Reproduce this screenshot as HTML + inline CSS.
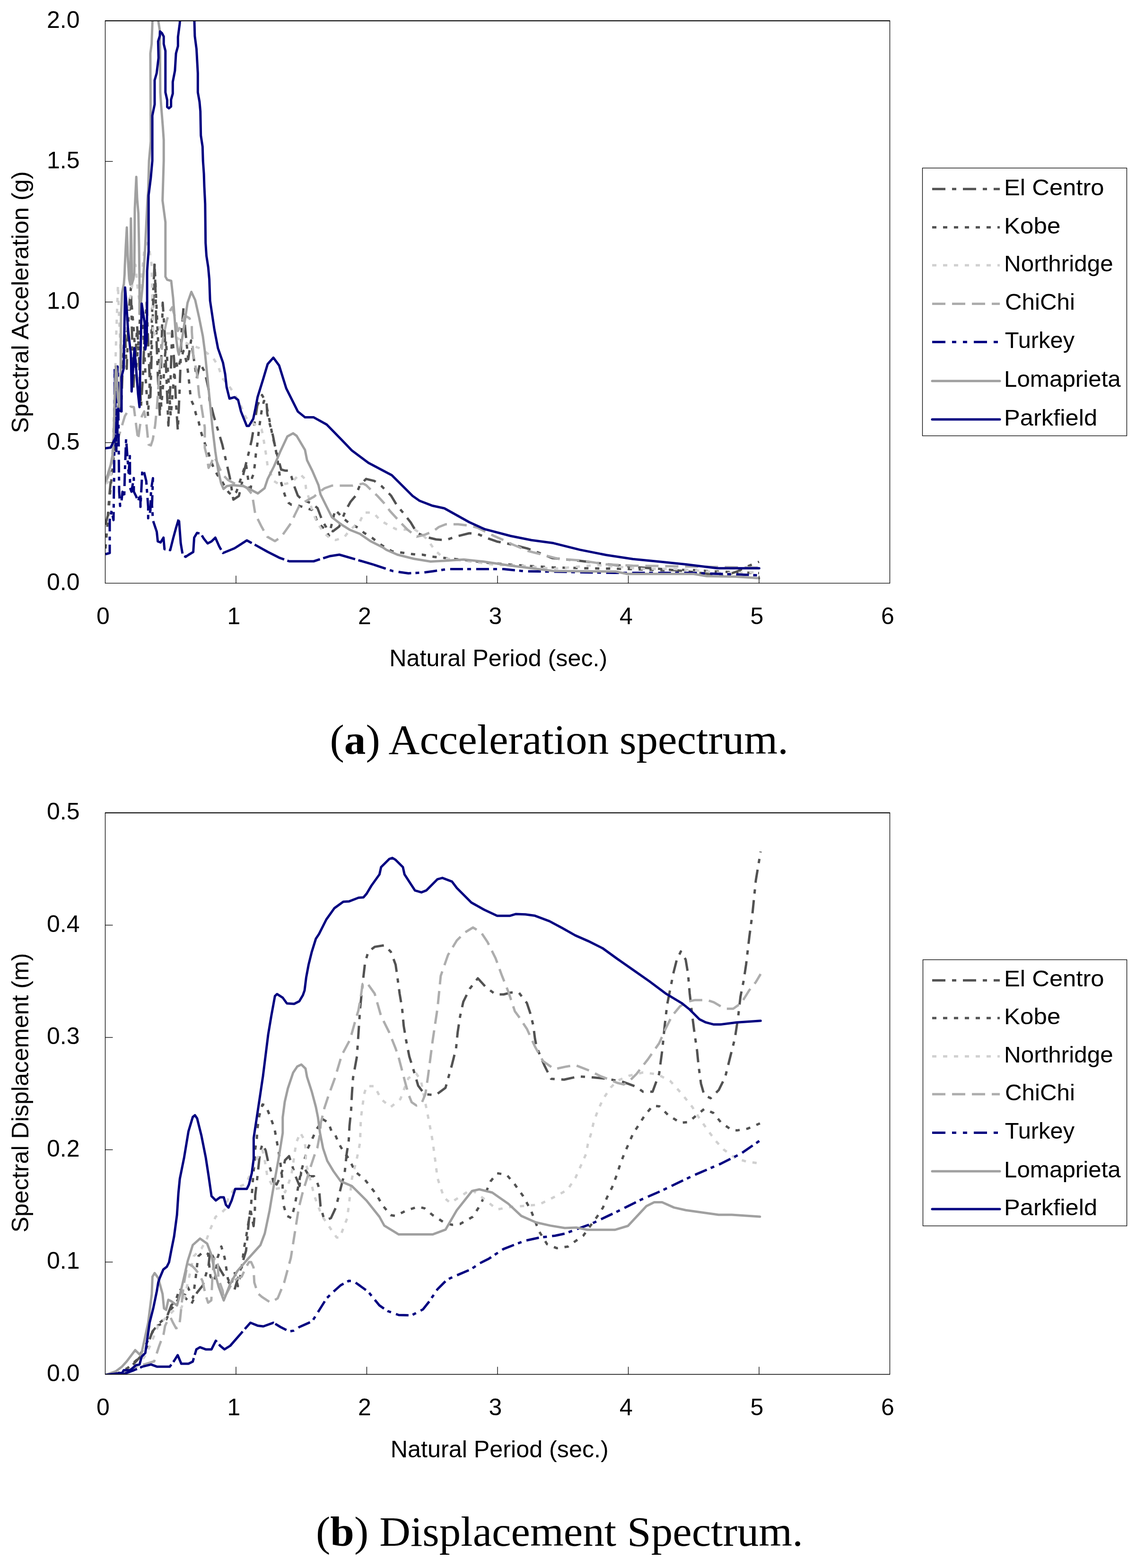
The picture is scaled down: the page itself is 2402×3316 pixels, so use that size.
<!DOCTYPE html>
<html><head><meta charset="utf-8"><title>Spectra</title>
<style>html,body{margin:0;padding:0;background:#fff;}svg{display:block;}</style>
</head><body>
<svg width="2402" height="3316" viewBox="0 0 2402 3316">
<rect width="2402" height="3316" fill="#fff"/>
<clipPath id="clip0"><rect x="222.5" y="44" width="1659" height="1189.4"/></clipPath>
<g clip-path="url(#clip0)" fill="none" stroke-width="5.0" stroke-linejoin="round" stroke-linecap="butt">
<polyline stroke="#525252" stroke-dasharray="28 14 9 14" points="223,1110 228,1090 232,1040 236,1000 240,960 244,930 248,880 252,820 256,870 260,760 264,700 268,780 272,660 276.8,609 279,700 282,820 286,760 290,690 294,760 298,860 302,800 306,700 310,640 314,740 318,840 322,700 326.7,556 329,620 331,720 334,800 338,880 341,760 344,640 348,700 352,800 356,900 360,820 364,700 368,760 372,850 376,910 380,820 384,700 388,651 392,700 398,760 404,720 410,760 416,800 423,768 431,783 436,800 441,823 443,847 447,860 452,880 458,900 464,920 470,940 478,975 486,1010 493.4,1056.6 505.1,1048.8 510.9,1025.4 514.8,1002 520.6,978.7 526.5,955.3 532.3,930 536.2,906.6 540.1,883.2 544,858 554,835.3 563.8,852.9 565,874.8 570.4,896.7 577,920.8 581.3,942.7 588,969 594.5,993 603.3,995.3 609.8,995.3 616.4,1008.4 623,1030.3 629.6,1047.9 638.3,1056.6 655.8,1063.2 671.2,1074.2 682.1,1102.6 693.1,1120.2 704,1123.5 717.2,1113.6 730.3,1080.7 741.3,1061 752.3,1047.9 761,1026 774.2,1012.8 791.7,1017.2 807,1028.2 826.7,1047.9 839.9,1069.8 853,1085.1 868.4,1104.8 881.1,1126.2 898.7,1135 922,1140.8 942.5,1142.3 962.9,1135 992.1,1127.7 1009.7,1129.1 1030.1,1137.9 1050.6,1145.2 1079.8,1151 1114.8,1159.8 1138.2,1168.5 1167.4,1180.2 1226,1186 1282,1193 1338,1199 1394,1203 1450,1208 1500,1214 1530,1218 1560,1208 1580,1198 1605,1188"/>
<polyline stroke="#525252" stroke-dasharray="9 14" points="223,1160 228,1100 233,1040 238,990 243,940 248,880 253,840 258,790 263,740 268,700 273,660 278,640 283,700 288,780 293,720 298,640 303,700 308,800 313,880 318,780 322,650 327,560 331,650 336,760 341,860 346,800 351,720 356,800 361,880 366,820 371,760 376,780 382,760 388,742 394.5,766 398,790 402.6,835 406,850 410.7,860 414,875 418.8,886 424,910 429,926.6 434,940 440,955 446,975 452,990 460,1005 468,1015 476,1030 484,1042 492,1048 500,1040 510,1010 520,980 528.8,1043.5 533,1010 536.4,1002 539.7,975 541,960 544.1,939.4 548,905 553,870 558,848 561.6,848.5 566,870 572,900 577,925 582.4,947 588,980 592.3,1012.8 600,1040 605.5,1056.6 609.8,1063.2 616.4,1067.6 625.2,1067.6 640,1072 660.2,1078.5 664.6,1085.1 671.2,1104.8 675.6,1109.2 691,1122.4 695.3,1133.3 708.8,1078 723.4,1094 739,1107 756.6,1115.8 769.8,1126.8 787.3,1137.7 798.3,1146.5 807,1153 828.5,1165.6 857.8,1170 881.1,1173 892.8,1173 916.2,1177.4 940,1180 980,1184 1030,1190 1090,1195 1170,1200 1250,1202 1320,1203 1400,1206 1460,1205 1500,1208 1550,1210 1605,1212"/>
<polyline stroke="#d0d0d0" stroke-dasharray="9 14" points="223,1023 228,1020 234,1017 238,950 242,850 246,700 249.4,603 252,680 256,760 262,720 268,680 274,640 280,600 286.5,560 290,600 295,640 298,600 301,567 305,530 310,514 316,530 320.6,560 322,620 324,712 330,700 336,690 342,700 348,705 354,705 360,705 370,712 380,718 390,724 400,728 410,732 421,736 437,746 451.3,758 461.4,774 469.5,799 481.7,813 496,833 510,860 520,883 527,890 544,901 553,908 556,920 559,940 563,964 566,987 572,1000 577,1016 590,1024 605,1023 618,1019 634,1002 645,1013 647,1033 655,1060 660,1080 671,1106 686,1128 700,1140 710,1142 728,1136 739,1122 750,1112 761,1103 770,1084 780,1084 790,1085 802,1098 812,1105 825.6,1113 837.3,1119 855,1120 875,1119 890,1128 904.5,1142 919,1163 936.6,1179 948.3,1182 1000,1188 1050,1195 1062,1195 1100,1196 1170,1203 1226,1198 1260,1195 1300,1198 1360,1203 1420,1203 1470,1206 1530,1212 1605,1210"/>
<polyline stroke="#adadad" stroke-dasharray="28 14" points="223,1020 228,1010 234,990 240,960 246,940 252,920 258,900 264,880 270,870 276,860 283,861 288,900 292,930 296,900 300,880 305,870 310,900 314,940 319,942 323,930 328,900 332,860 336,800 340,760 344,720 348,700 352,680 358,660 364,650 370,670 376,700 382,690 390.4,667 400.6,673 405.6,685 405.6,701 408.7,750 416.8,792.7 420.9,835 425,853.5 433,904 433,947 437,963 441,989.5 447,979 452,965 458,975 464,990 472,1005 482,1015 495,1022 510,1025 522,1032 533,1045 539.7,1087 552.9,1113.6 565,1135 581.3,1144.3 594.5,1135.5 616.4,1104.8 623,1089.5 631.7,1072 644.9,1061 664.6,1050 671.2,1043.5 686.5,1032.5 701.9,1027 745.7,1027 767.6,1022.7 774.2,1026 778.5,1030.3 798.3,1049 811.4,1063.2 824.6,1080.7 848.7,1107 861.8,1120.2 881.1,1135 898.7,1130.6 916.2,1123.3 927.9,1114.5 942.5,1108.7 968.8,1108.7 992.1,1111.6 1009.7,1116 1027.2,1124.7 1044.7,1133.5 1065.2,1142.3 1082.7,1151 1117.8,1165.6 1135.3,1170 1180,1181.7 1226,1185 1282,1193.4 1338,1196.2 1450,1198 1605,1200.4"/>
<polyline stroke="#000080" stroke-dasharray="27 9 8 11" points="223,1172 232,1169.5 232,1100 236,1080 240,1100 241.4,1000 242,860 242.5,780 244,850 246,954 247,860 248.5,775 249.5,800 250.5,900 252,1040 254,1070 256.5,1064 259,1040 262.6,1052 264,1000 266.6,928 269,960 272,1000 274.7,964.6 275,1031.5 278,1040 282.9,1011 283,1039.6 288,1050 292,1060 297,1043.7 297,1072 301,993 305,1000 309.2,1017 313.3,1072 313.3,1096 318,1080 319.4,1035.6 323.4,1011.2 321.4,1068 323.4,1100.5 330,1120.3"/>
<polyline stroke="#000080" stroke-dasharray="70 7" points="330,1120.3 331.5,1124.8 333.6,1145 339.6,1147.1 345.7,1137 347.8,1161.3 359.9,1163.4 366,1139 372.1,1116.7 378.2,1096.4 382.2,1149.2 386.3,1173.5 392.4,1177.6 398.5,1173.5 408.6,1167.4 410.6,1137 416.7,1126.9 424.8,1128.9 430.9,1139 439,1149.2 447.2,1145.1 455.3,1137 463.4,1155.3 471.5,1169.5 495.9,1159.5 521.8,1142.8 541.5,1153.4 565.9,1167 590.2,1179.3 611.5,1187 663.3,1187 696.7,1176.3 717.5,1173 752.6,1183.2 787.6,1193.4 790,1194.2"/>
<polyline stroke="#000080" stroke-dasharray="27 9 8 11" points="790,1194.2 831.5,1208 863.6,1212.4 892.8,1211 916.2,1208 945.4,1203.6 992.1,1203.6 1065.2,1203.6 1109,1208 1170,1209 1300,1211.6 1466,1211.6 1605,1216.6"/>
<polyline stroke="#a0a0a0" stroke-linecap="round" points="223,1015 228,1003 234,983 238,962 240,930 241.5,880 243,820 245,775 247,790 249,840 252,860 255,807 255.5,700 256,666 258,620 262,600 263.4,580 264,562 266,520 268.2,481 270,540 273,590 275.6,602 276,540 276.8,462 278,520 279,600 282,590 284,577 285,442 288.2,374 290,420 292.6,451 294,520 295,600 295,664 298,640 302,600 306,540 309,480 312,420 313.3,404 315.1,340 318.8,299 317.9,113 320.6,93 322.4,44 326,10 332,10 334.8,44.6 338,65.6 338.9,195 340.7,223 344.3,268 346.2,296 346.2,340 343.7,424 349.8,470 349.8,585 353.5,591.6 362,594 366,630 369,670 372,711.6 376.2,742 378.3,750 384.3,721.7 390.4,681 396.5,640.6 404.6,617.2 412.7,634.5 420.9,671 429,711.6 433,742 437.1,782.6 441.1,823 445.2,863.7 449.2,904.3 455.3,955 461.4,995.5 467.5,1021.9 472.6,1034 479.7,1028 491.8,1026 514.2,1028 520,1030.3 533.1,1037 545.2,1043.5 559.4,1032.5 566,1012.8 579.2,986.5 592.3,955.8 607.6,923 619.7,916.4 627.4,921.9 644.9,951.5 649.3,973.4 660.2,995.3 673.4,1026 677.8,1045.7 690.9,1072 701.9,1093.9 721.6,1109.2 739.1,1120.2 761,1129 783,1144.3 809.2,1157.4 816.9,1162.7 840.2,1173 875.3,1181.7 910.3,1187.5 939.6,1186.1 980.5,1183.2 1021.4,1187.5 1079.8,1196.3 1170,1207.4 1301.6,1208.8 1326.8,1213.8 1466.8,1213.8 1494.7,1218.6 1556.3,1219.4 1605.3,1222.8"/>
<polyline stroke="#000080" stroke-linecap="round" points="223,948 234,946.5 240,934 248,919 249.4,867 257,870 257,797 261.6,779 264.5,608 267.6,648 270.7,697 276.8,749 278.3,828 284.4,736 292,834 295,861 296.6,773 299.6,642 305.7,682 307.2,739 310.3,721 311.1,640 311.1,573.7 312.4,553.6 314.2,531.7 314.2,413 318.8,376.5 322.1,340 322.1,244.5 327,220.8 327,169.6 331.2,155 335.2,122.2 334.3,87.5 338,75.6 338.3,66.5 342.5,70.1 346.2,77.4 346.2,93 349.8,107.6 349.8,195.2 353.5,211.6 353.5,226.2 357.1,229 361.7,225.3 361.7,210.7 365.3,198 365.3,173.3 369.9,149.5 372.1,113 376.3,97.5 376.3,78.3 379.9,51 382,30 395,10 409,30 411,44.6 411.9,76.5 415.5,103.9 418.3,155 418.3,195.2 421.9,215.3 423.7,235.4 424.7,286.5 428.3,310.2 429.2,340 431.1,367.4 432,394.8 433.8,431.3 434.7,513.5 436.5,540.8 440.2,564.6 442.6,590.4 444.2,636 453.3,697 460.9,736.5 471.5,767 476.1,791.3 479.2,818.7 485.2,843 495.9,840 503.5,846 509.6,870.4 521.8,900.8 526.3,900.8 535.5,885.6 540,864.3 544.6,840 556.8,800.4 565.9,770 578,756.3 590.2,773 605.4,821.7 629.8,870.4 645,882.6 663.3,882.6 690.7,897.8 722,929.7 743.8,952.4 778.9,978.7 828.5,1005 872.4,1048.8 887,1059 913.3,1069.2 939.6,1075 992.1,1104.3 1024.3,1118.9 1079.8,1133.5 1123.6,1142.3 1170,1148.6 1226,1162.6 1282,1173.8 1338,1182.2 1394,1187.8 1450,1193.4 1517.1,1201.8 1605.3,1201.8"/>
</g>
<g stroke="#000" fill="none">
<line x1="221.9" y1="44" x2="1882.1" y2="44" stroke-width="1.8"/>
<line x1="221.9" y1="1233.4" x2="1882.1" y2="1233.4" stroke-width="1.3"/>
<line x1="222.5" y1="44" x2="222.5" y2="1233.4" stroke-width="1.3"/>
<line x1="1881.5" y1="44" x2="1881.5" y2="1233.4" stroke-width="1.3"/>
<line x1="222.5" y1="936.1" x2="238.5" y2="936.1" stroke-width="1.3"/>
<line x1="222.5" y1="638.7" x2="238.5" y2="638.7" stroke-width="1.3"/>
<line x1="222.5" y1="341.4" x2="238.5" y2="341.4" stroke-width="1.3"/>
<line x1="499" y1="1233.4" x2="499" y2="1217.4" stroke-width="1.3"/>
<line x1="775.5" y1="1233.4" x2="775.5" y2="1217.4" stroke-width="1.3"/>
<line x1="1052" y1="1233.4" x2="1052" y2="1217.4" stroke-width="1.3"/>
<line x1="1328.5" y1="1233.4" x2="1328.5" y2="1217.4" stroke-width="1.3"/>
<line x1="1605" y1="1233.4" x2="1605" y2="1217.4" stroke-width="1.3"/>
</g>
<g font-family='"Liberation Sans", Arial, sans-serif' font-size="50" fill="#000">
<text x="168.5" y="1247.9" text-anchor="end">0.0</text>
<text x="168.5" y="950.6" text-anchor="end">0.5</text>
<text x="168.5" y="653.2" text-anchor="end">1.0</text>
<text x="168.5" y="355.9" text-anchor="end">1.5</text>
<text x="168.5" y="58.5" text-anchor="end">2.0</text>
<text x="218" y="1319.9" text-anchor="middle">0</text>
<text x="494.5" y="1319.9" text-anchor="middle">1</text>
<text x="771" y="1319.9" text-anchor="middle">2</text>
<text x="1047.5" y="1319.9" text-anchor="middle">3</text>
<text x="1324" y="1319.9" text-anchor="middle">4</text>
<text x="1600.5" y="1319.9" text-anchor="middle">5</text>
<text x="1877" y="1319.9" text-anchor="middle">6</text>
<text x="1053.8" y="1409.4" text-anchor="middle" textLength="461" lengthAdjust="spacingAndGlyphs">Natural Period (sec.)</text>
<text transform="translate(60.2,639) rotate(-90)" text-anchor="middle" textLength="554" lengthAdjust="spacingAndGlyphs">Spectral Acceleration (g)</text>
</g>
<rect x="1950.5" y="355.4" width="432" height="566.2" fill="#fff" stroke="#000" stroke-width="1.3"/>
<g font-family='"Liberation Sans", Arial, sans-serif' font-size="49" fill="#000">
<line x1="1971" y1="399.8" x2="2114" y2="399.8" stroke="#525252" stroke-width="5.0" stroke-dasharray="28 14 9 14"/>
<text x="2123" y="412.5" textLength="211.6" lengthAdjust="spacingAndGlyphs">El Centro</text>
<line x1="1971" y1="480.8" x2="2114" y2="480.8" stroke="#525252" stroke-width="5.0" stroke-dasharray="9 14"/>
<text x="2123" y="493.5" textLength="119.3" lengthAdjust="spacingAndGlyphs">Kobe</text>
<line x1="1971" y1="561" x2="2114" y2="561" stroke="#d0d0d0" stroke-width="5.0" stroke-dasharray="9 14"/>
<text x="2123" y="573.7" textLength="230.6" lengthAdjust="spacingAndGlyphs">Northridge</text>
<line x1="1971" y1="642.4" x2="2114" y2="642.4" stroke="#adadad" stroke-width="5.0" stroke-dasharray="28 14"/>
<text x="2125" y="655.1" textLength="147.9" lengthAdjust="spacingAndGlyphs">ChiChi</text>
<line x1="1971" y1="723.3" x2="2114" y2="723.3" stroke="#000080" stroke-width="5.0" stroke-dasharray="28 14 9 14 9 14"/>
<text x="2124.7" y="736" textLength="147.4" lengthAdjust="spacingAndGlyphs">Turkey</text>
<line x1="1971" y1="805.7" x2="2114" y2="805.7" stroke="#a0a0a0" stroke-width="5.0" stroke-linecap="round"/>
<text x="2123" y="818.4" textLength="246.8" lengthAdjust="spacingAndGlyphs">Lomaprieta</text>
<line x1="1971" y1="887" x2="2114" y2="887" stroke="#000080" stroke-width="5.0" stroke-linecap="round"/>
<text x="2123" y="899.7" textLength="197.1" lengthAdjust="spacingAndGlyphs">Parkfield</text>
</g>
<clipPath id="clip1"><rect x="222.5" y="1719" width="1659" height="1187.5"/></clipPath>
<g clip-path="url(#clip1)" fill="none" stroke-width="5.0" stroke-linejoin="round" stroke-linecap="butt">
<polyline stroke="#525252" stroke-dasharray="28 14 9 14" points="222,2908 250,2905 268,2897 282,2885 296,2870 310,2850 322.4,2815.6 337.6,2797.3 352.9,2785 362,2760.8 371.1,2751.7 380.2,2724.3 392,2745 404.6,2757.8 416.8,2733.4 428.9,2718.2 441.1,2675.6 444.2,2645.2 453.3,2663.4 465.5,2684.7 474.6,2700 483.7,2712.1 495.9,2727.4 511.1,2675.6 520.2,2645.2 523.3,2614.8 526.3,2580 530,2560 536.2,2593 538.8,2563 539.6,2528.4 543,2500 549.9,2436.3 555,2419.3 561.8,2433 566.9,2456.8 573.7,2479 578,2499.4 585,2505 592,2490 599.3,2468.7 602.7,2453.4 611.2,2444.9 616.3,2460.2 624.9,2487.5 633.4,2507.9 636.8,2478.9 643.6,2470.4 653.8,2487.5 664,2487.5 669.2,2496 674.3,2511.3 677.7,2550.5 684.5,2576 691.3,2579.5 699.8,2576 710,2554 718.6,2520 728.8,2480 733,2440 737.3,2413 739,2381 742.4,2348 744.1,2313.6 746.4,2280 754.7,2234.2 758.1,2183.1 761.5,2132 766.7,2080.8 771.8,2036.5 778.6,2012.7 792.2,2002.4 812.7,1999 826.3,2012.7 836.5,2040 839.9,2063.8 845,2101.3 850.2,2132 853.6,2169.4 858.7,2200.1 865.5,2234.2 874,2261.5 884.2,2296 897.7,2314.1 921.5,2315.8 942,2300.4 955.8,2251.2 964.3,2217.2 967.7,2183.1 972.9,2149 979.7,2118.3 993.3,2091 1010.3,2068.9 1027.4,2087.6 1047.8,2103 1064.9,2103 1080,2099.1 1097,2099.1 1114.1,2121.3 1120.9,2141.7 1127.7,2169 1131.1,2196.3 1134.5,2213.3 1141.3,2230.3 1151.6,2254.2 1165.2,2281.5 1192.5,2283.2 1223.1,2276.4 1250.4,2278.1 1284.5,2281.5 1318.6,2288.3 1345.8,2298.5 1359.5,2308.7 1379.9,2308.7 1393.6,2271.2 1400.4,2220.1 1405.5,2169 1410.6,2124.7 1417.4,2090.6 1424.2,2056.5 1431.1,2029.3 1439.6,2012.2 1449.8,2029.3 1454.9,2060 1458.3,2100.8 1463.4,2145.1 1468.6,2186 1473.7,2220.1 1477.1,2254.2 1482.2,2291.7 1489,2315.6 1502.6,2322.4 1519.7,2305.3 1533.3,2278.1 1543.5,2237.2 1553.8,2196.3 1560.6,2152 1565.7,2107.7 1572.5,2073.6 1577.6,2039.5 1584.4,1981.5 1591.2,1930.4 1598.1,1862.2 1604.9,1821.3 1608.3,1800.9"/>
<polyline stroke="#525252" stroke-dasharray="9 14" points="222,2908 250,2904 270,2893 290,2875 305,2850 318,2825 330,2805 341,2800 352,2790 360,2770 370,2760 378,2745 387,2749 397,2722 408,2745 414,2700 419,2657 430,2647 440,2652 445,2700 454,2710 460,2660 468,2636 475,2660 482,2705 489,2717 496,2690 503,2720 510,2690 515.8,2640 520,2618.7 523.5,2596.5 527.7,2571 531.1,2545.4 532.8,2523.2 534.5,2499.4 536.2,2477.2 538.8,2453.4 539.6,2431.2 543,2407.4 544.8,2383.5 548.2,2359.6 555,2335.8 561.8,2337.5 572,2363 580.5,2387 584.8,2410.8 589,2434.6 592.5,2456.8 595.9,2484 597.6,2504.5 597.6,2526.7 600.1,2550.5 606.1,2571 616.3,2576 623.1,2550.5 627.4,2526.7 636,2480 650.4,2429.5 662.3,2404 669.2,2388.6 683.2,2367.3 694.2,2373.9 701.5,2393.7 708.4,2398.8 716.9,2419.3 728.8,2439.7 733.9,2444.9 742.4,2460.2 751.1,2477.7 771.6,2494.7 795.4,2525.4 809.1,2549.3 826.1,2569.7 836.3,2571.4 860.2,2559.5 884,2552 897.7,2555.4 914.7,2569.7 938.6,2585 955.6,2590.2 972.7,2588.5 999.9,2573.1 1017,2545.8 1027.2,2522 1037.4,2498.1 1051,2481.1 1071.5,2484.5 1088.6,2504.9 1105.6,2528.8 1122.6,2559.5 1139.7,2603.8 1156.7,2631.1 1177.2,2639.6 1201,2636.2 1211.1,2628.6 1233.3,2613.3 1247.2,2593.9 1262.5,2573.1 1275,2553.6 1283.3,2532.8 1294.4,2510.6 1302.8,2488.3 1311.1,2463.3 1319.4,2441.1 1329.2,2418.9 1338.9,2396.7 1350,2380 1363.9,2357.8 1380.6,2338.3 1394.4,2339.7 1413.9,2359.2 1438.9,2374.4 1455.6,2373.1 1472.2,2359.2 1488.9,2345.3 1508.3,2353.6 1525,2374.4 1547.2,2389.7 1558.3,2390.6 1580.6,2386.9 1606.9,2375.8"/>
<polyline stroke="#d0d0d0" stroke-dasharray="9 14" points="222,2908 260,2905 290,2890 305,2870 317,2847 335.6,2801 361.5,2777 368.9,2769.6 383.7,2766 389.3,2747.4 398.5,2706.7 409.6,2656.7 426.3,2640 437.4,2619.6 444.8,2599.3 455.9,2573.3 467,2566 476.3,2556.7 483.7,2530.7 493,2517.8 500.4,2512.2 520.7,2503 539.3,2458.5 548.5,2442 555,2432 560,2455 565.2,2487.5 580,2515 597.6,2511.3 602.7,2521.5 611.2,2499.4 616.3,2484 619.7,2461.9 623.1,2438 626.6,2415.9 635,2395.4 643.6,2410.8 647,2434.6 646.2,2458.5 655,2490 665,2530 680,2570 700,2600 712,2617 718.7,2617.4 727.3,2593.6 734.1,2576.5 739.2,2535.6 744.3,2491.3 754.5,2450.4 761.3,2416.3 763,2365.2 769.9,2314.1 775,2297 792,2297 805.7,2324.3 826.1,2341.3 846.6,2324.3 856.8,2297 863.6,2280 880,2270 890,2285 897.7,2324.3 907.9,2375.4 914.7,2412.9 919.8,2450.4 925,2491.3 938.6,2532.2 952.2,2544.1 996.5,2515.2 1023.8,2535.6 1051,2557.8 1078.3,2552.7 1119.2,2549.3 1139.7,2547.5 1177.2,2528.8 1200,2516.1 1216.7,2491.1 1227.8,2466.1 1238.9,2441.1 1243.1,2418.9 1250,2396.7 1255.6,2371.7 1263.9,2349.4 1275,2324.4 1291.7,2299.4 1305.6,2285.6 1330,2275 1360,2268 1390,2272 1416.7,2285.6 1441.7,2313.3 1463.9,2341.1 1477.8,2363.3 1497.2,2391.1 1513.9,2413.3 1530.6,2431.4 1555.6,2449.4 1577.8,2456.4 1606.9,2460.6"/>
<polyline stroke="#adadad" stroke-dasharray="28 14" points="222,2908 250,2905 270,2898 290,2890 310,2884 326,2879 336,2848 346,2821 349,2804 357,2787 361,2787 365.7,2797 372.3,2809 378.9,2806.5 381,2788 388,2720 396.4,2673 405.2,2676 412.8,2684 420.5,2694 428.2,2709 434.7,2738.6 440,2755 446.8,2750 449,2703.5 452.3,2662 460,2662 462,2704.6 471,2730 473,2748.5 477.5,2738.6 490,2715 500,2705 511,2700 520,2680 526.6,2669 531,2669 536,2680 537.7,2712 545,2735 553.7,2742.6 572,2754.7 587.2,2745.6 600.9,2712.1 615,2660 631.6,2555.3 640.2,2520.7 658.8,2461.5 667.4,2435.6 671.1,2426.9 676,2401 678.5,2373.8 682.2,2359 686,2343 694.6,2317 708.1,2280 722.6,2231.5 740.2,2198.6 751.1,2159.2 757.7,2137.2 762.1,2113.1 766.7,2080.8 775.2,2077.4 792.2,2101.3 805.8,2149 822.9,2183.1 836.5,2217.2 843.3,2237.6 857,2290 863.6,2314 870.4,2331 880.6,2338 890.9,2334.5 899.4,2314 904.7,2278.5 914.9,2200.1 925.1,2132 931.9,2063.8 947.3,2019.5 966,1988.8 983.1,1971.8 1000.1,1961.5 1017.2,1971.8 1030.8,1992.2 1047.8,2026.3 1061.5,2063.8 1075.1,2097.9 1088.7,2138.8 1097,2150 1114.1,2175.8 1131.1,2213.3 1148.2,2244 1172,2261 1195.9,2255.9 1216.3,2252.5 1247,2264.4 1270.9,2276.4 1284.5,2281.5 1305,2290 1318.6,2293.4 1328.8,2288.3 1345.8,2271.2 1369.7,2240.6 1393.6,2206.5 1407.2,2175.8 1420.8,2148.6 1437.9,2128.1 1454.9,2117.9 1468.6,2115.1 1495.8,2115.1 1509.4,2119.6 1526.5,2129.8 1536.7,2133.2 1550.3,2133.2 1567.4,2121.3 1584.4,2094 1598.1,2077 1608.3,2059.9"/>
<polyline stroke="#000080" stroke-dasharray="70 7" points="222,2908 258.5,2906.9 282.9,2897.8 301.1,2890.2 319.4,2885.6 331.6,2890.2 359,2890.2 368.1,2878 375.7,2865.8 383.3,2884 398.5,2884 407.6,2879.5 415.2,2853.7 422.9,2849.1 435,2853.7 447.2,2853.7 456.3,2835.4 465.5,2846 474.6,2853.7 486.8,2846 508.1,2821.7 529.4,2797.3 544.6,2803.4 556.8,2805 578,2797.3 582,2799.7"/>
<polyline stroke="#000080" stroke-dasharray="27 9 8 11" points="582,2799.7 593.3,2806.5 611.5,2815.6 620.7,2814.1 632.8,2806.5 660.2,2794.3 675.4,2770 690.7,2745.6 703.4,2733.3 720.4,2718 737.5,2708.8 747.7,2709.4 778.4,2731.6 802.2,2760.6 819.3,2772.5 843.1,2781 870.4,2781.7 894.3,2769.1 907.9,2752 925,2726.5 945.4,2706 972.7,2694.1 996.5,2683.9 1013.6,2672 1034,2661.7 1064.7,2641.3 1109,2624.2 1139.7,2617.4 1173.8,2613.3 1194.2,2608.9 1230.6,2595.3 1250,2588.3 1302.8,2563.3 1355.6,2537 1397.2,2518.9 1466.7,2485.6 1525,2460.6 1566.7,2439.7 1606.9,2411.9"/>
<polyline stroke="#a0a0a0" stroke-linecap="round" points="222,2908 245,2900 258,2890 267.6,2879.5 285.9,2855.2 298.1,2867.3 313.3,2797.3 320.9,2736.5 322.4,2700 327,2692.3 334.6,2703 343.7,2736.5 346.8,2766.9 351.3,2770 355.9,2748.7 362,2751.7 374.2,2760.8 380.2,2739.5 389.4,2700 397,2666.5 407.6,2633 422.9,2619.3 438,2630 447.2,2654.3 453.3,2687.8 462.4,2721.3 473.1,2750.2 486.8,2715.2 502,2687.8 523.3,2663.4 550.7,2633 559.8,2608.7 570,2560 575,2530 580.2,2500 589,2450.6 597.8,2395.8 597.8,2362.9 602.1,2330.1 608.7,2301.6 619.7,2268.7 628.4,2255.6 637.2,2251.2 646,2259.9 649.2,2277.5 659.1,2308.2 667.9,2341 672.3,2362.9 676.6,2395.8 683.2,2428.7 692,2455 705.1,2476.9 720.4,2498.1 744.3,2508.4 775,2539 802.2,2573.1 812.5,2591.9 843.1,2610.6 914.7,2610.6 942,2600.4 965.8,2559.5 998.2,2518.6 1013.6,2515.2 1040.8,2522 1074.9,2545.8 1102.2,2571.4 1132.9,2585 1163.5,2591.9 1194.2,2597 1219.4,2596.1 1241.7,2600.8 1300,2600.8 1327.8,2592.5 1366.7,2550.8 1383.3,2542.5 1400,2542.5 1425,2553.6 1450,2559.2 1519.4,2568.9 1547.2,2568.9 1606.9,2573.1"/>
<polyline stroke="#000080" stroke-linecap="round" points="222,2908 240.3,2905.4 258.5,2903.2 261.6,2897.8 275.3,2897.8 287.4,2887.1 295,2885.6 299.6,2868.9 307.2,2861.3 310.3,2840 316.3,2797.3 324,2766.9 331.6,2730.4 334.6,2712.1 337.6,2703 345.3,2684.7 352.9,2678.7 357.4,2669.5 362,2645.2 368.1,2614.8 374.2,2569.1 377.2,2523.5 380.2,2493 389.4,2447.4 398.5,2392.6 407.6,2362.2 412.2,2358.5 416.8,2365.2 425.9,2401.7 435,2447.4 441.1,2487 447.2,2529.5 456.3,2538.7 465.5,2532 473.1,2532 477.6,2547.8 483.1,2553.9 489.8,2538.7 497.4,2514.3 521.8,2514.3 526.3,2505.2 532.4,2480.9 536.4,2450.6 536.4,2406.7 543,2362.9 549.6,2319.1 556.1,2275.3 561.6,2231.5 567.1,2187.6 573.7,2148.2 581.3,2106.6 585.7,2102.2 597.8,2109.9 606.5,2121.9 621.9,2123 632.8,2117.5 640.5,2104.4 644,2094.5 647.4,2067.2 652.5,2040 659.3,2012.7 667.8,1985.4 674.6,1975.2 690,1944.5 707,1920.6 725.8,1907 737.7,1906.3 758.1,1898.5 768.4,1897.8 775.2,1890 785.4,1872.9 802.4,1849.1 805.8,1833.7 822.9,1816.7 829.7,1814.3 836.5,1818.4 851.9,1833.7 855.3,1849.1 877.4,1883.2 891,1887.2 901.3,1883.2 925.1,1859.3 935.4,1856.6 955.8,1864.4 966,1878 996.7,1908.7 1024,1924 1051.2,1936.7 1078.5,1936.7 1090.2,1933.1 1110.7,1933.8 1131.1,1936.6 1161.8,1948.1 1189.1,1962.8 1216.3,1978.1 1243.6,1990.1 1274.3,2005.4 1305,2027.6 1339,2051.4 1373.1,2075.3 1407.2,2100.8 1441.3,2121.3 1458.3,2134.9 1478.8,2155.4 1492.4,2162.2 1509.4,2166.6 1523.1,2166.6 1557.2,2162.2 1608.3,2158.8"/>
</g>
<g stroke="#000" fill="none">
<line x1="221.9" y1="1719" x2="1882.1" y2="1719" stroke-width="1.8"/>
<line x1="221.9" y1="2906.5" x2="1882.1" y2="2906.5" stroke-width="1.3"/>
<line x1="222.5" y1="1719" x2="222.5" y2="2906.5" stroke-width="1.3"/>
<line x1="1881.5" y1="1719" x2="1881.5" y2="2906.5" stroke-width="1.3"/>
<line x1="222.5" y1="2669" x2="238.5" y2="2669" stroke-width="1.3"/>
<line x1="222.5" y1="2431.5" x2="238.5" y2="2431.5" stroke-width="1.3"/>
<line x1="222.5" y1="2194" x2="238.5" y2="2194" stroke-width="1.3"/>
<line x1="222.5" y1="1956.5" x2="238.5" y2="1956.5" stroke-width="1.3"/>
<line x1="499" y1="2906.5" x2="499" y2="2890.5" stroke-width="1.3"/>
<line x1="775.5" y1="2906.5" x2="775.5" y2="2890.5" stroke-width="1.3"/>
<line x1="1052" y1="2906.5" x2="1052" y2="2890.5" stroke-width="1.3"/>
<line x1="1328.5" y1="2906.5" x2="1328.5" y2="2890.5" stroke-width="1.3"/>
<line x1="1605" y1="2906.5" x2="1605" y2="2890.5" stroke-width="1.3"/>
</g>
<g font-family='"Liberation Sans", Arial, sans-serif' font-size="50" fill="#000">
<text x="168.5" y="2920.8" text-anchor="end">0.0</text>
<text x="168.5" y="2683.3" text-anchor="end">0.1</text>
<text x="168.5" y="2445.8" text-anchor="end">0.2</text>
<text x="168.5" y="2208.3" text-anchor="end">0.3</text>
<text x="168.5" y="1970.8" text-anchor="end">0.4</text>
<text x="168.5" y="1733.3" text-anchor="end">0.5</text>
<text x="218" y="2993" text-anchor="middle">0</text>
<text x="494.5" y="2993" text-anchor="middle">1</text>
<text x="771" y="2993" text-anchor="middle">2</text>
<text x="1047.5" y="2993" text-anchor="middle">3</text>
<text x="1324" y="2993" text-anchor="middle">4</text>
<text x="1600.5" y="2993" text-anchor="middle">5</text>
<text x="1877" y="2993" text-anchor="middle">6</text>
<text x="1056.3" y="3081.5" text-anchor="middle" textLength="461" lengthAdjust="spacingAndGlyphs">Natural Period (sec.)</text>
<text transform="translate(60.2,2311) rotate(-90)" text-anchor="middle" textLength="591" lengthAdjust="spacingAndGlyphs">Spectral Displacement (m)</text>
</g>
<rect x="1951.5" y="2029.6" width="431.1" height="562.9" fill="#fff" stroke="#000" stroke-width="1.3"/>
<g font-family='"Liberation Sans", Arial, sans-serif' font-size="49" fill="#000">
<line x1="1971" y1="2073.3" x2="2114" y2="2073.3" stroke="#525252" stroke-width="5.0" stroke-dasharray="28 14 9 14"/>
<text x="2123" y="2086" textLength="211.6" lengthAdjust="spacingAndGlyphs">El Centro</text>
<line x1="1971" y1="2153" x2="2114" y2="2153" stroke="#525252" stroke-width="5.0" stroke-dasharray="9 14"/>
<text x="2123" y="2165.7" textLength="119.3" lengthAdjust="spacingAndGlyphs">Kobe</text>
<line x1="1971" y1="2234" x2="2114" y2="2234" stroke="#d0d0d0" stroke-width="5.0" stroke-dasharray="9 14"/>
<text x="2123" y="2246.7" textLength="230.6" lengthAdjust="spacingAndGlyphs">Northridge</text>
<line x1="1971" y1="2313.9" x2="2114" y2="2313.9" stroke="#adadad" stroke-width="5.0" stroke-dasharray="28 14"/>
<text x="2125" y="2326.6" textLength="147.9" lengthAdjust="spacingAndGlyphs">ChiChi</text>
<line x1="1971" y1="2395.5" x2="2114" y2="2395.5" stroke="#000080" stroke-width="5.0" stroke-dasharray="28 14 9 14 9 14"/>
<text x="2124.7" y="2408.2" textLength="147.4" lengthAdjust="spacingAndGlyphs">Turkey</text>
<line x1="1971" y1="2476.9" x2="2114" y2="2476.9" stroke="#a0a0a0" stroke-width="5.0" stroke-linecap="round"/>
<text x="2123" y="2489.6" textLength="246.8" lengthAdjust="spacingAndGlyphs">Lomaprieta</text>
<line x1="1971" y1="2556.9" x2="2114" y2="2556.9" stroke="#000080" stroke-width="5.0" stroke-linecap="round"/>
<text x="2123" y="2569.6" textLength="197.1" lengthAdjust="spacingAndGlyphs">Parkfield</text>
</g>
<g font-family='"Liberation Serif", "Times New Roman", serif' font-size="88" fill="#000">
<text x="697.5" y="1593.6" textLength="969.5" lengthAdjust="spacingAndGlyphs">(<tspan font-weight="bold">a</tspan>) Acceleration spectrum.</text>
<text x="668" y="3269" textLength="1030" lengthAdjust="spacingAndGlyphs">(<tspan font-weight="bold">b</tspan>) Displacement Spectrum.</text>
</g>
</svg>
</body></html>
